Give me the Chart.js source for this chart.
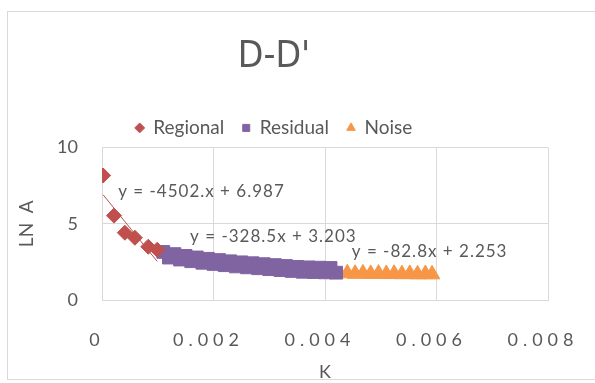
<!DOCTYPE html>
<html>
<head>
<meta charset="utf-8">
<script src="https://cdn.jsdelivr.net/npm/chart.js@4.4.0/dist/chart.umd.min.js"></script>
<style>
  html, body { margin: 0; padding: 0; background: #fff; }
  canvas { display: block; }
</style>
</head>
<body>
<canvas id="chart" width="595" height="383"></canvas>
<script>
// K vs LN A, split into three spectral segments
const regionalK = [0.00002, 0.000215, 0.00041, 0.00059, 0.00083, 0.00099];
const regionalLnA = [8.16, 5.53, 4.41, 4.08, 3.49, 3.29];

const residualK = [
  0.0011, 0.0012, 0.0013, 0.0014, 0.0015, 0.0016, 0.0017, 0.0018,
  0.0019, 0.0020, 0.0021, 0.0022, 0.0023, 0.0024, 0.0025, 0.0026,
  0.0027, 0.0028, 0.0029, 0.0030, 0.0031, 0.0032, 0.0033, 0.0034,
  0.0035, 0.0036, 0.0037, 0.0038, 0.0039, 0.0040, 0.0041, 0.0042
];
const residualLnA = [
  3.15, 2.78, 3.01, 2.65, 2.89, 2.54, 2.79, 2.44,
  2.70, 2.36, 2.62, 2.28, 2.54, 2.20, 2.47, 2.14,
  2.41, 2.08, 2.35, 2.02, 2.29, 1.96, 2.23, 1.90,
  2.17, 1.85, 2.14, 1.83, 2.12, 1.81, 2.10, 1.79
];

const noiseK = [0.0044, 0.00454, 0.00468, 0.00482, 0.00496, 0.0051, 0.00524, 0.00538, 0.00552, 0.00566, 0.0058, 0.00592];
const noiseLnA = [1.75, 1.72, 1.74, 1.71, 1.73, 1.70, 1.72, 1.69, 1.71, 1.68, 1.70, 1.68];

const xTicks = [0, 0.002, 0.004, 0.006, 0.008];
const yTicks = [0, 5, 10];

// linear fits per segment
const trendSlopes = [-4502, -328.5, -82.8];
const trendIntercepts = [6.987, 3.203, 2.253];
const trendLabels = ['y = -4502.x + 6.987', 'y = -328.5x + 3.203', 'y = -82.8x + 2.253'];

const textColor = '#595959';
const gridColor = '#d9d9d9';
const fontFamily = 'Lato, "Open Sans", sans-serif';
const titleFamily = '"DejaVu Sans Condensed", Lato, sans-serif';
const colors = ['#c0504d', '#8064a2', '#f79646'];

function points(xs, ys) {
  return xs.map((k, i) => ({ x: k, y: ys[i] }));
}

function trendLine(xs, i) {
  const lo = Math.min(...xs), hi = Math.max(...xs);
  return [lo, hi].map(k => ({ x: k, y: trendSlopes[i] * k + trendIntercepts[i] }));
}

// where each fit equation is written, in data units
const labelAnchors = [
  { x: 0.00029, y: 7.1 },
  { x: 0.00158, y: 4.14 },
  { x: 0.00448, y: 3.16 }
];

const decorations = {
  id: 'decorations',
  beforeDraw(chart) {
    const ctx = chart.ctx;
    ctx.save();
    ctx.fillStyle = '#fff';
    ctx.fillRect(0, 0, chart.width, chart.height);
    ctx.strokeStyle = gridColor;
    ctx.lineWidth = 1;
    ctx.strokeRect(7.5, 11.5, 600, 368);
    ctx.restore();
  },
  afterDatasetsDraw(chart) {
    const { ctx, scales: { x, y } } = chart;
    ctx.save();
    ctx.fillStyle = textColor;
    ctx.font = `17px ${fontFamily}`;
    ctx.letterSpacing = '1px';
    ctx.textAlign = 'left';
    ctx.textBaseline = 'middle';
    trendLabels.forEach((t, i) => {
      ctx.fillText(t, x.getPixelForValue(labelAnchors[i].x), y.getPixelForValue(labelAnchors[i].y));
    });
    ctx.restore();
  },
  afterDraw(chart) {
    // x tick labels, drawn by hand for the wide letter spacing
    const { ctx, scales: { x, y } } = chart;
    ctx.save();
    ctx.fillStyle = textColor;
    ctx.font = `18px ${fontFamily}`;
    ctx.letterSpacing = '5px';
    ctx.textAlign = 'center';
    ctx.textBaseline = 'middle';
    xTicks.forEach(v => {
      ctx.fillText(String(v), x.getPixelForValue(v) - 5, y.bottom + 40);
    });
    ctx.restore();
  }
};

new Chart(document.getElementById('chart'), {
  type: 'scatter',
  data: {
    datasets: [
      {
        label: 'Regional',
        data: points(regionalK, regionalLnA),
        pointStyle: 'rectRot',
        pointRadius: 7.5,
        backgroundColor: colors[0],
        borderColor: colors[0],
        borderWidth: 1
      },
      {
        label: 'Residual',
        data: points(residualK, residualLnA),
        pointStyle: 'rect',
        pointRadius: 9,
        backgroundColor: colors[1],
        borderColor: colors[1],
        borderWidth: 1
      },
      {
        label: 'Noise',
        data: points(noiseK, noiseLnA),
        pointStyle: 'triangle',
        pointRadius: 9,
        backgroundColor: colors[2],
        borderColor: colors[2],
        borderWidth: 1
      },
      {
        label: 'fit regional',
        data: trendLine(regionalK, 0),
        showLine: true, pointRadius: 0, borderColor: colors[0], borderWidth: 1
      },
      {
        label: 'fit residual',
        data: trendLine(residualK, 1),
        showLine: true, pointRadius: 0, borderColor: colors[1], borderWidth: 1
      },
      {
        label: 'fit noise',
        data: trendLine(noiseK, 2),
        showLine: true, pointRadius: 0, borderColor: colors[2], borderWidth: 1
      }
    ]
  },
  options: {
    responsive: false,
    animation: false,
    layout: { padding: { left: 0, right: 47, top: 12, bottom: 0 } },
    plugins: {
      title: {
        display: true,
        text: "D-D'",
        color: textColor,
        font: { family: titleFamily, size: 37, weight: 'normal' },
        padding: { top: 23, bottom: 21 }
      },
      legend: {
        labels: {
          filter: item => item.datasetIndex < 3,
          usePointStyle: true,
          boxWidth: 8,
          boxHeight: 7,
          padding: 18,
          color: textColor,
          font: { family: fontFamily, size: 19 }
        }
      },
      tooltip: { enabled: false }
    },
    scales: {
      x: {
        type: 'linear',
        min: 0,
        max: 0.008,
        afterBuildTicks: scale => { scale.ticks = xTicks.map(v => ({ value: v })); },
        ticks: { display: false },
        grid: { color: gridColor, drawTicks: false },
        border: { color: gridColor },
        title: {
          display: true,
          text: 'K',
          color: textColor,
          font: { family: fontFamily, size: 18 },
          padding: { top: 0, bottom: 0 }
        },
        afterFit: scale => { scale.height = 83; }
      },
      y: {
        min: 0,
        max: 10,
        afterBuildTicks: scale => { scale.ticks = yTicks.map(v => ({ value: v })); },
        ticks: {
          color: textColor,
          padding: 24,
          font: { family: fontFamily, size: 18 }
        },
        grid: { color: gridColor, drawTicks: false },
        border: { color: gridColor },
        title: {
          display: true,
          text: 'LN  A',
          color: textColor,
          font: { family: fontFamily, size: 19 },
          padding: { top: 15, bottom: 0 }
        },
        afterFit: scale => { scale.width = 102; }
      }
    }
  },
  plugins: [decorations]
});
</script>
</body>
</html>
